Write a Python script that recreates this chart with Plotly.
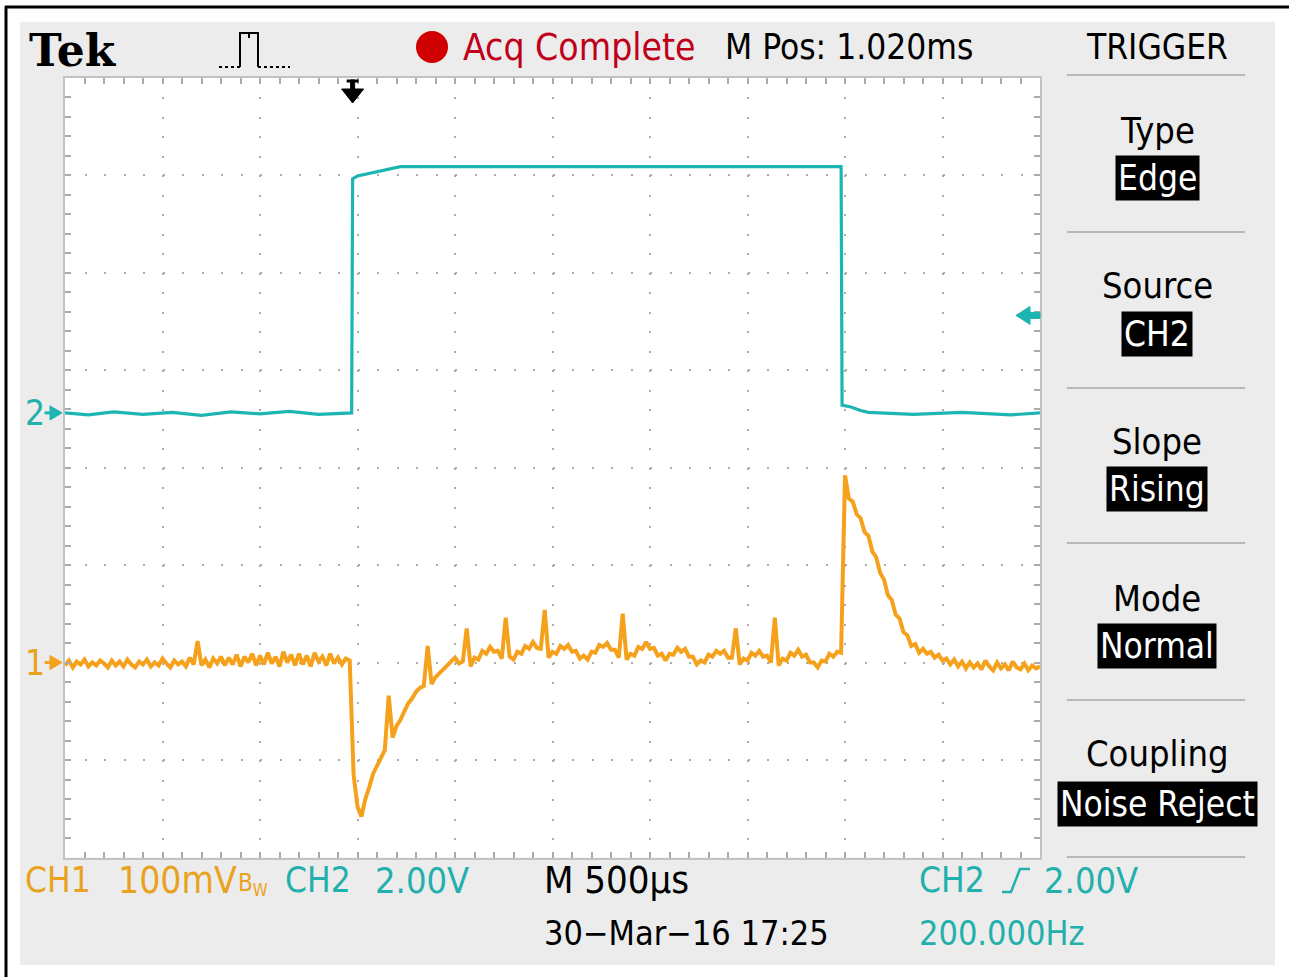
import plotly.graph_objects as go

W, H = 1289, 977

time_range_ms = [0.0, 5.0]          # 10 div x 500 us
ch1_range_mv = [-200, 600]          # 8 div x 100 mV, ground 2 div above bottom
ch2_range_v = [-9.12, 6.88]         # 8 div x 2.00 V
ch1_dt_ms = 0.02
ch1_mv = [
    -3, 2, -5, 1, -2, 3, -4, 0, -3, 2,
    -1, -5, 2, -3, 1, -4, 3, -2, -5, 1,
    -2, 3, -4, 0, -3, 4, -1, -5, 2, -2,
    1, -4, 5, -2, 22, -3, 3, -5, 4, -1,
    6, -3, 5, -2, 8, -4, 6, 0, 9, -3,
    7, -2, 10, -1, 6, -4, 11, 0, 8, -3,
    9, -2, 7, -4, 10, 1, 6, -3, 9, -1,
    5, -2, 4, 2, -115, -148, -158, -140, -128, -114,
    -106, -97, -90, -34, -77, -65, -59, -50, -42, -37,
    -30, -26, -24, 17, -22, -15, -11, -8, -4, 0,
    5, -1, 1, 35, -4, 5, 3, 12, 9, 16,
    11, 12, 4, 46, 6, 3, 11, 9, 17, 14,
    21, 15, 14, 54, 5, 11, 9, 17, 14, 18,
    11, 12, 4, 7, 3, 11, 10, 18, 16, 20,
    13, 13, 5, 50, 3, 9, 7, 16, 14, 21,
    14, 15, 7, 9, 2, 9, 8, 15, 11, 14,
    6, 6, -2, 2, 0, 8, 6, 12, 9, 12,
    5, 5, 35, -2, 4, 2, 10, 7, 12, 6,
    7, 0, 46, -3, 4, 2, 10, 7, 13, 6,
    8, 0, 0, -5, 2, 1, 9, 6, 11, 10,
    192, 168, 165, 152, 148, 134, 130, 114, 108, 92,
    85, 69, 64, 49, 45, 31, 28, 17, 19, 10,
    14, 9, 11, 5, 8, 2, 4, -2, 3, -4,
    1, -6, 0, -5, -1, -7, 2, -4, -8, 0,
    -6, -2, -8, 1, -5, -7, -1, -8, -3, -6,
    -4,
]
ch2_t_ms = [0.00, 0.12, 0.25, 0.40, 0.55, 0.70, 0.85, 1.00, 1.15, 1.30, 1.47,
            1.475, 1.50, 1.55, 1.60, 1.65, 1.72, 2.50, 3.30, 3.98,
            3.985, 4.03, 4.08, 4.12, 4.35, 4.60, 4.85, 5.00]
ch2_v = [0.00, -0.04, 0.02, -0.03, 0.01, -0.05, 0.02, -0.02, 0.03, -0.03, 0.00,
         4.80, 4.86, 4.90, 4.95, 4.99, 5.05, 5.05, 5.05, 5.05,
         0.16, 0.12, 0.05, 0.01, -0.03, 0.01, -0.04, 0.00]
trigger_time_ms = 1.475
trigger_level_v = 2.0
menu_titles = ["Type", "Source", "Slope", "Mode", "Coupling"]
menu_values = ["Edge", "CH2", "Rising", "Normal", "Noise Reject"]

ch1_t_ms = [i * ch1_dt_ms for i in range(len(ch1_mv))]

# ---------------- styling ----------------
FONT = "DejaVu Sans Condensed, DejaVu Sans, sans-serif"
ORANGE = "#F5A11C"
ORANGE_TXT = "#E9A220"
CYAN = "#1DB5B2"
CYAN_TXT = "#22B0AC"
RED_TXT = "#C0001A"
GRID = "#ababab"
FRAME = "#c2c2c2"
PANEL = "#ececec"
PL, PR, PT, PB = 65, 1040, 77.5, 857.5


def px(x):
    return x / W


def py(y):
    return 1 - y / H


fig = go.Figure()
fig.add_trace(go.Scatter(x=ch2_t_ms, y=ch2_v, mode="lines", yaxis="y2",
                         line=dict(color=CYAN, width=3.2), hoverinfo="skip"))
fig.add_trace(go.Scatter(x=ch1_t_ms, y=ch1_mv, mode="lines",
                         line=dict(color=ORANGE, width=4), hoverinfo="skip"))

axis_common = dict(showgrid=True, gridcolor=GRID, gridwidth=2, griddash="2px,17.5px",
                   ticks="inside", ticklen=6, tickwidth=2, tickcolor=GRID,
                   showline=True, linecolor=FRAME, linewidth=2, mirror="ticks",
                   showticklabels=False, zeroline=False, fixedrange=True)
center_common = dict(showgrid=False, showline=False, showticklabels=False,
                     zeroline=False, ticklen=5, tickwidth=2, tickcolor=GRID, fixedrange=True)

y_center_paper = py((PT + PB) / 2)
x_center_paper = px((PL + PR) / 2)

fig.update_layout(
    width=W, height=H, margin=dict(l=0, r=0, t=0, b=0),
    paper_bgcolor="white", plot_bgcolor="white", showlegend=False,
    xaxis=dict(domain=[px(PL), px(PR)], range=time_range_ms, dtick=0.5, tick0=0,
               minor=dict(dtick=0.1, tick0=0, ticks="inside", ticklen=6, tickwidth=2,
                          tickcolor=GRID, showgrid=False),
               **axis_common),
    yaxis=dict(domain=[py(PB), py(PT)], range=ch1_range_mv, dtick=100, tick0=0,
               minor=dict(dtick=20, tick0=0, ticks="inside", ticklen=6, tickwidth=2,
                          tickcolor=GRID, showgrid=False),
               **axis_common),
    yaxis2=dict(overlaying="y", range=ch2_range_v, visible=False, fixedrange=True),
    xaxis3=dict(overlaying="x", anchor="free", position=y_center_paper, side="bottom",
                range=time_range_ms, dtick=0.1, tick0=0, ticks="outside", **center_common),
    xaxis4=dict(overlaying="x", anchor="free", position=y_center_paper, side="bottom",
                range=time_range_ms, dtick=0.1, tick0=0, ticks="inside", **center_common),
    yaxis3=dict(overlaying="y", anchor="free", position=x_center_paper, side="left",
                range=ch1_range_mv, dtick=20, tick0=0, ticks="outside", **center_common),
    yaxis4=dict(overlaying="y", anchor="free", position=x_center_paper, side="left",
                range=ch1_range_mv, dtick=20, tick0=0, ticks="inside", **center_common),
)

shapes = []
# panel and frame
shapes.append(dict(type="rect", xref="paper", yref="paper", x0=px(20), x1=px(1275),
                   y0=py(965), y1=py(22), fillcolor=PANEL, line=dict(width=0), layer="below"))
shapes.append(dict(type="rect", xref="paper", yref="paper", x0=px(PL), x1=px(PR),
                   y0=py(PB), y1=py(PT), fillcolor="white", line=dict(width=0), layer="below"))
shapes.append(dict(type="line", xref="paper", yref="paper", x0=px(5), x1=1, y0=py(7), y1=py(7),
                   line=dict(color="black", width=3)))
shapes.append(dict(type="line", xref="paper", yref="paper", x0=px(6), x1=px(6), y0=0, y1=py(6),
                   line=dict(color="black", width=3)))
# menu separators
for sy in [75, 232, 388, 543, 700, 857]:
    shapes.append(dict(type="line", xref="paper", yref="paper", x0=px(1067), x1=px(1245),
                       y0=py(sy), y1=py(sy), line=dict(color="#b8b8b8", width=2)))

# red acquisition dot
shapes.append(dict(type="circle", xref="paper", yref="paper", x0=px(416), x1=px(448),
                   y0=py(63), y1=py(31), fillcolor="#D00000", line=dict(width=0)))

# pulse icon
shapes.append(dict(type="path", xref="paper", yref="paper",
                   path=f"M{px(219)},{py(67)} L{px(240)},{py(67)} M{px(258)},{py(67)} L{px(290)},{py(67)}",
                   line=dict(color="black", width=2, dash="dot")))
shapes.append(dict(type="path", xref="paper", yref="paper",
                   path=(f"M{px(240)},{py(67)} L{px(240)},{py(33)} L{px(249)},{py(33)} "
                         f"L{px(249)},{py(38)} M{px(249)},{py(33)} L{px(258)},{py(33)} L{px(258)},{py(67)}"),
                   line=dict(color="black", width=2)))

# trigger position arrow (top)
ms_per_px = (time_range_ms[1] - time_range_ms[0]) / (PR - PL)
tx = trigger_time_ms
shapes.append(dict(type="path", xref="x", yref="paper",
                   path=(f"M{tx - 2*ms_per_px},{py(80)} L{tx + 2*ms_per_px},{py(80)} "
                         f"L{tx + 2*ms_per_px},{py(89)} L{tx + 11*ms_per_px},{py(89)} "
                         f"L{tx},{py(103)} L{tx - 11*ms_per_px},{py(89)} L{tx - 2*ms_per_px},{py(89)} Z"),
                   fillcolor="black", line=dict(color="black", width=1)))
shapes.append(dict(type="line", xref="x", yref="paper", x0=tx - 6*ms_per_px, x1=tx + 6*ms_per_px,
                   y0=py(81), y1=py(81), line=dict(color="black", width=3)))

# trigger level arrow (right), on CH2 scale
v_per_px = (ch2_range_v[1] - ch2_range_v[0]) / (PB - PT)
lv = trigger_level_v
shapes.append(dict(type="path", xref="paper", yref="y2",
                   path=(f"M{px(1016)},{lv} L{px(1030)},{lv + 9*v_per_px} L{px(1030)},{lv + 3*v_per_px} "
                         f"L{px(1040)},{lv + 3*v_per_px} L{px(1040)},{lv - 3*v_per_px} "
                         f"L{px(1030)},{lv - 3*v_per_px} L{px(1030)},{lv - 9*v_per_px} Z"),
                   fillcolor=CYAN, line=dict(color=CYAN, width=1)))

# ground markers (left)
mv_per_px = (ch1_range_mv[1] - ch1_range_mv[0]) / (PB - PT)
for yref, upp, col in [("y", mv_per_px, ORANGE), ("y2", v_per_px, CYAN)]:
    shapes.append(dict(type="path", xref="paper", yref=yref,
                       path=(f"M{px(45)},{1*upp} L{px(50)},{1*upp} L{px(50)},{7*upp} L{px(62)},{0} "
                             f"L{px(50)},{-7*upp} L{px(50)},{-1*upp} L{px(45)},{-1*upp} Z"),
                       fillcolor=col, line=dict(color=col, width=1)))

# trigger slope glyph (bottom right)
shapes.append(dict(type="path", xref="paper", yref="paper",
                   path=f"M{px(1002)},{py(892)} L{px(1011)},{py(892)} L{px(1020)},{py(869)} L{px(1030)},{py(869)}",
                   line=dict(color=CYAN_TXT, width=2.5)))

fig.update_layout(shapes=shapes)


def label(x, y, text, color="black", size=36, xanchor="left", family=FONT, bg=None,
          yref="paper", pad=0):
    fig.add_annotation(x=px(x), y=(py(y) if yref == "paper" else y), xref="paper", yref=yref,
                       text=text, showarrow=False, xanchor=xanchor, yanchor="middle",
                       font=dict(family=family, size=size, color=color),
                       bgcolor=bg, borderpad=pad)


label(28, 50, "<b>Tek</b>", size=44, family="DejaVu Serif, Liberation Serif, serif")
label(462, 47, "Acq Complete", color=RED_TXT, size=37)
label(724, 47, "M Pos: 1.020ms", size=35)
label(1157, 47, "TRIGGER", xanchor="center", size=35)

title_y = [130, 286, 442, 598, 753]
value_y = [178, 334, 489, 646, 804]
for t, v, ty, vy in zip(menu_titles, menu_values, title_y, value_y):
    label(1157, ty, t, xanchor="center", size=36)
    label(1157, vy, v, color="white", xanchor="center", bg="black", pad=2, size=35)

# ground labels
label(24, 0, "1", color=ORANGE_TXT, yref="y", size=35)
label(24, 0, "2", color=CYAN_TXT, yref="y2", size=35)

# bottom status
label(24, 880, "CH1", color=ORANGE_TXT, size=35)
label(117, 880, "100mV", color=ORANGE_TXT, size=37)
label(237, 884, "B<sub>W</sub>", color=ORANGE_TXT, size=24)
label(284, 880, "CH2", color=CYAN_TXT, size=35)
label(374, 880, "2.00V", color=CYAN_TXT, size=36)
label(543, 880, "M 500\u00b5s", size=38)
label(543, 933, "30\u2212Mar\u221216 17:25", size=34)
label(918, 880, "CH2", color=CYAN_TXT, size=35)
label(1043, 880, "2.00V", color=CYAN_TXT, size=36)
label(918, 933, "200.000Hz", color=CYAN_TXT, size=34)

fig.write_html("out.html", config={"displayModeBar": False},
               post_script="document.body.style.margin='0';document.body.style.overflow='hidden';")
